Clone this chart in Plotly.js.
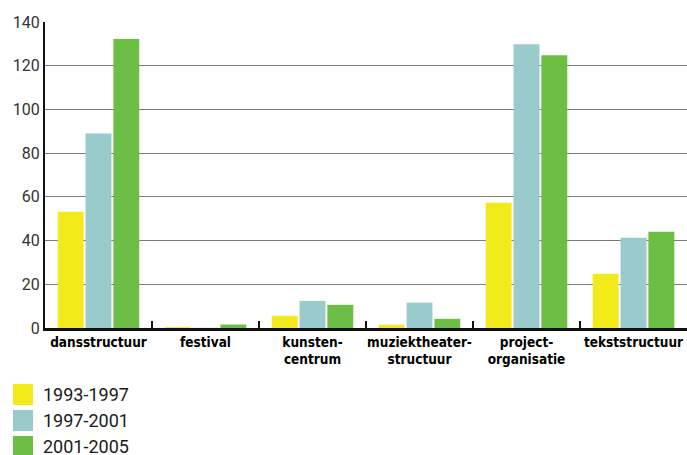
<!DOCTYPE html>
<html><head><meta charset="utf-8">
<script src="https://cdn.plot.ly/plotly-3.0.1.min.js"></script>
<style>html,body{margin:0;padding:0;background:#fff}#chart{width:687px;height:455px}</style>
</head><body><div id="chart"></div>
<script>
const categories = ["dansstructuur","festival","kunsten-<br>centrum","muziektheater-<br>structuur","project-<br>organisatie","tekststructuur"];
const seriesNames = ["1993-1997","1997-2001","2001-2005"];
const values1993 = [53.2, 0.4, 5.6, 1.5, 57.3, 24.8];
const values1997 = [89.0, 0.1, 12.4, 11.6, 129.8, 41.3];
const values2001 = [132.2, 1.6, 10.6, 4.2, 124.8, 44.0];
const colors = ["#F2EA1A","#9ACBCC","#6DBE45"];
const yTicks = [0,20,40,60,80,100,120,140];

const allValues = [values1993, values1997, values2001];
const traces = allValues.map((v,i)=>({
  type:"bar", x:categories, y:v, name:seriesNames[i],
  marker:{color:colors[i]}, showlegend:false, hoverinfo:"skip"
}));

const plotTop = 22, plotH = 306, plotL = 45, plotW = 642;
const shapes = [], annotations = [];
seriesNames.forEach((n,i)=>{
  const top = 384 + i*26, bot = top + 21;
  shapes.push({type:"rect", xref:"paper", yref:"paper",
    x0:(13-plotL)/plotW, x1:(33-plotL)/plotW,
    y0:(plotTop+plotH-bot)/plotH, y1:(plotTop+plotH-top)/plotH,
    line:{width:0}, fillcolor:colors[i]});
  annotations.push({xref:"paper", yref:"paper", x:(42-plotL)/plotW,
    y:(plotTop+plotH-(top+10))/plotH, xanchor:"left", yanchor:"middle",
    borderpad:0,
    text:n, showarrow:false, font:{family:"Roboto, Liberation Sans, sans-serif", size:18, color:"#1a1a1a"}});
});

const layout = {
  width:687, height:455,
  margin:{l:45, r:0, t:22, b:127},
  paper_bgcolor:"#fff", plot_bgcolor:"#fff",
  barmode:"group", bargap:0.22, bargroupgap:0.07,
  xaxis:{type:"category", showline:true, linecolor:"#111", linewidth:2.5,
    ticks:"inside", tickson:"boundaries", ticklen:7, tickwidth:2, tickcolor:"#111",
    tickangle:0,
    tickfont:{family:"DejaVu Sans Condensed, Liberation Sans Narrow, Roboto, sans-serif", size:13.5, color:"#000", weight:"bold"},
    showgrid:false, fixedrange:true},
  yaxis:{range:[0,140], tickvals:yTicks, showline:true, linecolor:"#111", linewidth:2,
    showgrid:true, gridcolor:"#7a7a7a", gridwidth:1, zeroline:false, ticks:"",
    tickfont:{family:"Roboto, Liberation Sans, sans-serif", size:16, color:"#333"}, fixedrange:true},
  shapes:shapes, annotations:annotations, showlegend:false
};
Plotly.newPlot("chart", traces, layout, {displayModeBar:false, staticPlot:true});
</script></body></html>
